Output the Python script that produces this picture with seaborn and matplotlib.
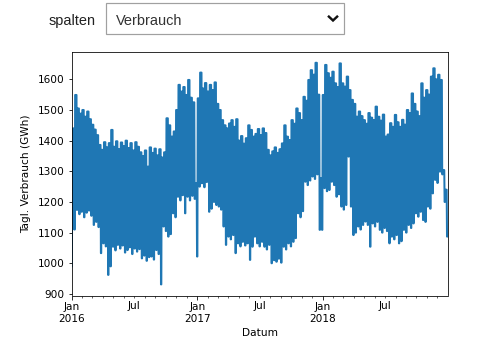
import matplotlib
matplotlib.use("Agg")
import matplotlib.pyplot as plt
import matplotlib.dates as mdates
from matplotlib.patches import Rectangle
from matplotlib.lines import Line2D
import seaborn as sns
import pandas as pd
import numpy as np

# Widget text
widget_label = "spalten"
widget_value = "Verbrauch"

# Weekly levels (GWh), one entry per calendar week
# starting with the partial week of Fri 2016-01-01.
# week_hi = working-day level, week_lo = weekend level
week_hi = [
    990, 1440, 1549, 1505, 1488, 1500, 1478, 1495, 1470, 1452,
    1436, 1418, 1386, 1370, 1395, 1378, 1392, 1435, 1380, 1398,
    1372, 1394, 1382, 1400, 1376, 1392, 1368, 1395, 1380, 1362,
    1350, 1368, 1315, 1378, 1360, 1374, 1352, 1372, 1345, 1362,
    1473, 1450, 1413, 1430, 1500, 1582, 1560, 1575, 1549, 1598,
    1540, 1525, 1261, 1538, 1622, 1570, 1588, 1560, 1582, 1565,
    1590, 1520, 1500, 1467, 1450, 1440, 1456, 1467, 1445, 1470,
    1400, 1415, 1390, 1408, 1450, 1435, 1413, 1422, 1438, 1418,
    1440, 1425, 1370, 1352, 1365, 1378, 1360, 1372, 1391, 1450,
    1413, 1402, 1467, 1455, 1505, 1490, 1467, 1543, 1530, 1598,
    1630, 1615, 1654, 1550, 1277, 1549, 1647, 1620, 1605, 1625,
    1587, 1575, 1652, 1587, 1576, 1609, 1565, 1533, 1520, 1478,
    1495, 1480, 1467, 1455, 1490, 1475, 1467, 1511, 1478, 1465,
    1485, 1413, 1420, 1457, 1445, 1484, 1460, 1445, 1468, 1452,
    1500, 1490, 1554, 1520, 1495, 1480, 1587, 1540, 1565, 1550,
    1609, 1636, 1600, 1615, 1598, 1304, 1240, 1090,
]
week_lo = [
    1110, 1110, 1174, 1160, 1168, 1150, 1165, 1172, 1155, 1125,
    1135, 1118, 1033, 1065, 1055, 962, 990, 1054, 1042, 1060,
    1048, 1058, 1035, 1043, 1052, 1030, 1048, 1038, 1046, 1016,
    1025, 1008, 1020, 1022, 1012, 1043, 1030, 931, 1120, 1105,
    1087, 1095, 1163, 1150, 1217, 1205, 1222, 1163, 1217, 1205,
    1220, 1210, 1022, 1250, 1261, 1248, 1265, 1168, 1178, 1200,
    1190, 1185, 1175, 1120, 1060, 1087, 1078, 1092, 1033, 1065,
    1055, 1070, 1058, 1065, 1011, 1054, 1087, 1065, 1055, 1070,
    1054, 1045, 1060, 1000, 1010, 1005, 1015, 1002, 1054, 1045,
    1065, 1055, 1070, 1082, 1163, 1150, 1170, 1266, 1255, 1270,
    1283, 1275, 1290, 1109, 1109, 1245, 1235, 1239, 1266, 1255,
    1217, 1225, 1185, 1175, 1190, 1348, 1185, 1092, 1100, 1120,
    1110, 1125, 1136, 1125, 1054, 1130, 1120, 1135, 1109, 1100,
    1115, 1105, 1065, 1087, 1078, 1092, 1065, 1072, 1109, 1100,
    1125, 1115, 1130, 1163, 1152, 1168, 1141, 1135, 1185, 1178,
    1228, 1272, 1262, 1299, 1290, 1200, 1087, 1087,
]

dates = pd.date_range("2016-01-01", "2018-12-31", freq="D")
week_idx = (np.arange(len(dates)) + 4) // 7
weekend = dates.dayofweek >= 5
verbrauch = np.where(weekend, np.array(week_lo)[week_idx], np.array(week_hi)[week_idx])
df = pd.DataFrame({"Datum": dates, "Verbrauch": verbrauch})

fig = plt.figure(figsize=(490 / 72, 351 / 72), dpi=72)
ax = fig.add_axes([71.7 / 490, 1 - 295.5 / 351, (447.7 - 71.7) / 490, (295.5 - 51.7) / 351])

sns.lineplot(data=df, x="Datum", y="Verbrauch", ax=ax, color="#1f77b4", linewidth=2.0)

ax.set_xlim(dates[0], dates[-1])
ax.xaxis.set_major_locator(mdates.YearLocator())
ax.xaxis.set_major_formatter(mdates.DateFormatter("%b\n%Y"))
ax.xaxis.set_minor_locator(mdates.MonthLocator())
ax.xaxis.set_minor_formatter(
    plt.FuncFormatter(lambda v, pos: "Jul" if mdates.num2date(v).month == 7 else "")
)
ax.tick_params(axis="both", which="both", labelsize=10.5)
ax.set_xlabel("Datum", fontsize=10.5)
ax.set_ylabel("Tagl. Verbrauch (GWh)", fontsize=10.5, labelpad=7)

# dropdown widget above the chart
fig.text(96 / 490, 1 - 25 / 351, widget_label, ha="right", va="baseline",
         fontsize=14.5, family="Liberation Sans", color="#222222")
fig.add_artist(Rectangle((106 / 490, 1 - 34 / 351), (344 - 106) / 490, (34 - 3.3) / 351,
                         transform=fig.transFigure, fill=False, edgecolor="#a0a0a0", linewidth=1.2))
fig.text(116 / 490, 1 - 25 / 351, widget_value, ha="left", va="baseline",
         fontsize=14.5, family="Liberation Sans", color="#333333")
fig.add_artist(Line2D([328 / 490, 333 / 490, 338 / 490],
                      [1 - 15.8 / 351, 1 - 20.5 / 351, 1 - 15.8 / 351],
                      transform=fig.transFigure, color="#111111", linewidth=2.4,
                      solid_capstyle="butt", solid_joinstyle="miter"))

fig.savefig("out.png", dpi=72)
